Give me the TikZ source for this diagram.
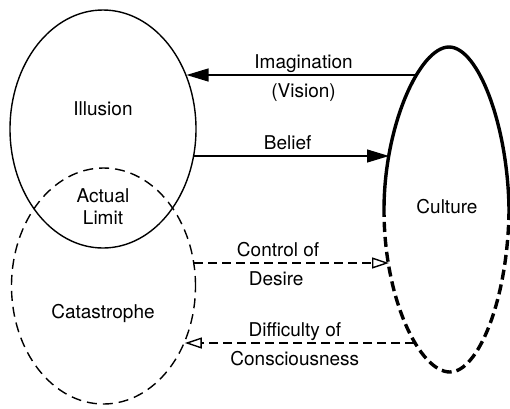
\documentclass[tikz,border=0pt]{standalone}
\usepackage{fontspec}
\setmainfont{TeX Gyre Heros}
\usetikzlibrary{positioning,arrows.meta,shapes.geometric,calc}

\begin{document}
\begin{tikzpicture}[x=1pt,y=-1pt,
  font=\fontsize{19}{22}\selectfont,
  realm/.style={draw,ellipse,inner sep=0pt,minimum width=186pt,minimum height=238pt},
  solidflow/.style={-{Triangle[length=22pt,width=13pt]},line width=1.2pt},
  dashflow/.style={-{Triangle[open,length=17pt,width=11pt]},line width=1.4pt,dash pattern=on 9pt off 5pt},
  lbl/.style={inner sep=0pt,text height=13pt,text depth=4pt}]
\useasboundingbox (0,0) rectangle (510,408);
% the two overlapping realms
\node[realm,line width=1.4pt] (illusion) at (103,129) {};
\node[realm,line width=1.4pt,dash pattern=on 10pt off 6pt,minimum width=184pt,minimum height=236pt] (catastrophe) at (103.5,286) {};
\node (illusiontxt) at (103,109) {Illusion};
\node[align=center] (limittxt) at (103,207) {Actual\\Limit};
\node (catastrophetxt) at (103,313) {Catastrophe};
% culture lens
\coordinate (cultop) at (449,47);
\coordinate (culbot) at (450,372);
\coordinate (culL) at (384,210);
\coordinate (culR) at (509,210);
\draw[line width=3.4pt] (culL) .. controls (384,125) and (420,47) .. (cultop) .. controls (478,47) and (508,125) .. (culR);
\draw[line width=3.4pt,dash pattern=on 10pt off 5pt] (culR) .. controls (508,300) and (478,372) .. (culbot) .. controls (420,372) and (384,300) .. (culL);
\node (culture) at (447,207) {Culture};
\coordinate (cimg) at (416,75);
\coordinate (cbel) at (389,156);
\coordinate (cctl) at (389,263);
\coordinate (cdif) at (414,343);
% flows
\draw[solidflow] (cimg) -- (illusion.33 |- cimg)
  node[lbl,pos=.49,above=2pt] (imglbl) {Imagination}
  node[lbl,pos=.49,below=8.5pt] (vislbl) {(Vision)};
\draw[solidflow] (illusion.17 |- cbel) -- (cbel)
  node[lbl,pos=.48,above=2pt] (bellbl) {Belief};
\draw[dashflow] (catastrophe.14 |- cctl) -- (cctl)
  node[lbl,pos=.43,above=2pt] (ctllbl) {Control of}
  node[lbl,pos=.42,below=8.5pt] (deslbl) {Desire};
\draw[dashflow] (cdif) -- (catastrophe.-35 |- cdif)
  node[lbl,pos=.52,above=2pt] (diflbl) {Difficulty of}
  node[lbl,pos=.52,below=8.5pt] (conlbl) {Consciousness};
\end{tikzpicture}
\end{document}
